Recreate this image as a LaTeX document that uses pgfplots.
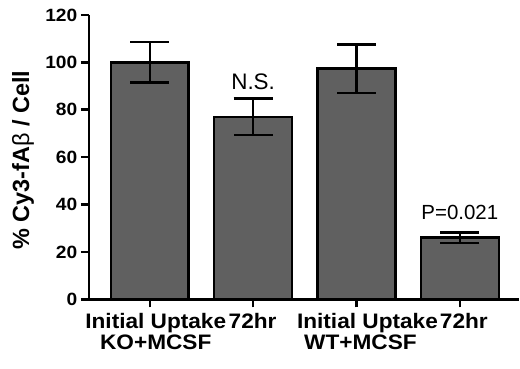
\documentclass[border=0pt]{standalone}
\usepackage{fontspec}
\setmainfont{Liberation Sans}[BoldFeatures={FakeStretch=1.08}]
\newfontfamily\labfont{Liberation Sans}
\usepackage{pgfplots}
\pgfplotsset{compat=1.18}
\definecolor{barfill}{RGB}{96,96,96}
\newcommand{\sh}[2]{\makebox[0pt]{\hspace*{#1}#2}}
\pgfplotstableread{
x y err
0 100.0 8.5
1 77.0 7.7
2 97.3 10.2
3 26.0 2.2
}\datatable
\begin{document}
\begin{tikzpicture}
\begin{axis}[
  name=ax,
  scale only axis,
  width=431pt, height=285pt,
  xmin=-0.59, xmax=3.57,
  ymin=0, ymax=120,
  axis x line=bottom, axis y line=left,
  axis line style={line width=2.5pt, -},
  x axis line style={shorten <=-1.25pt},
  ytick={0,20,...,120},
  xtick={0,1,2,3},
  xticklabels={{\sh{12pt}{Initial Uptake}\\\sh{12pt}{KO+MCSF}},{\sh{-1pt}{72hr}},{\sh{22pt}{Initial Uptake}\\\sh{8pt}{WT+MCSF}},{\sh{8pt}{72hr}}},
  xticklabel style={align=center, font=\fontsize{21}{21.5}\selectfont\bfseries, anchor=north, yshift=-2.5pt},
  yticklabel style={font=\fontsize{17.8}{20}\selectfont\bfseries},
  /pgf/number format/assume math mode=true,
  tick align=outside,
  major tick length=8pt,
  tick style={line width=2.5pt, black},
  minor tick num=0,
  ylabel={\bfseries\% Cy3-fA{\mdseries β} / Cell},
  ylabel style={font=\fontsize{23.5}{25}\selectfont\labfont, at={(axis description cs:-0.153,0.49)}, anchor=center},
  clip=false,
]
\addplot[ybar, bar width=78pt, fill=barfill, draw=black, line width=2.5pt,
  error bars/.cd, y dir=both, y explicit,
  error bar style={line width=2.5pt, black},
  error mark options={rotate=90, mark size=19.5pt, line width=2.5pt, black}]
  table[x=x, y=y, y error=err]{\datatable};
\node[font=\fontsize{22.5}{24}\selectfont] at (axis cs:1,91.8) {N.S.};
\node[font=\fontsize{20.5}{23}\selectfont] at (axis cs:3,36.8) {P=0.021};
\end{axis}
\path (ax.south west) ++(-89pt,-69pt) coordinate (bl);
\path (ax.north east) ++(0pt,15pt) coordinate (tr);
\useasboundingbox (bl) rectangle (tr);
\end{tikzpicture}
\end{document}
